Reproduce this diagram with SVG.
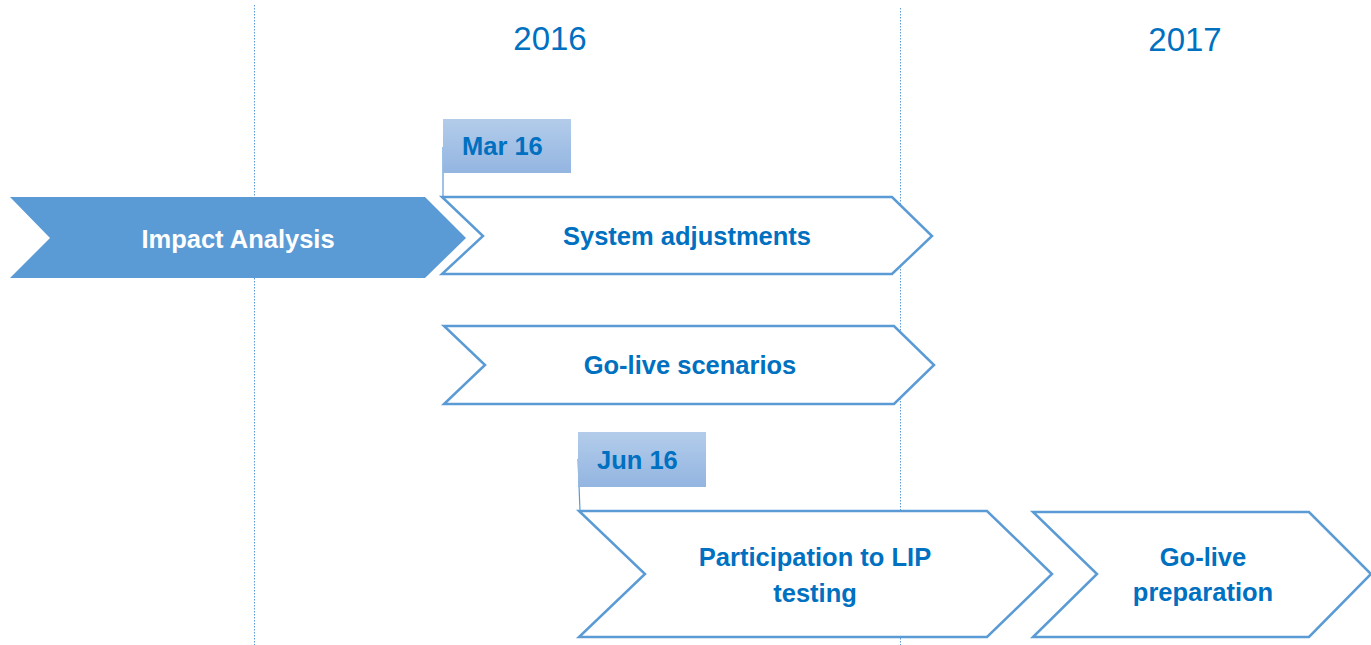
<svg xmlns="http://www.w3.org/2000/svg" width="1371" height="645" viewBox="0 0 1371 645">
<defs>
<linearGradient id="tagGrad" x1="0" y1="0" x2="0" y2="1">
<stop offset="0" stop-color="#B3CCEA"/>
<stop offset="1" stop-color="#93B5E1"/>
</linearGradient>
<style>
.grid{stroke:#5B9BD5;stroke-width:1;stroke-dasharray:1.5 1.5;fill:none}
.chev{fill:#FFFFFF;stroke:#5B9BD5;stroke-width:2.5;stroke-linejoin:miter}
.chevFill{fill:#5B9BD5;stroke:none}
.tag{fill:url(#tagGrad);stroke:none}
.lead{stroke:#5B9BD5;stroke-width:1.2;fill:none}
.lbl{font-family:"Liberation Sans",Arial,sans-serif;font-weight:bold;font-size:25.5px;fill:#0070C0;text-anchor:middle}
.lblW{font-family:"Liberation Sans",Arial,sans-serif;font-weight:bold;font-size:25.5px;fill:#FFFFFF;text-anchor:middle}
.tagTxt{font-family:"Liberation Sans",Arial,sans-serif;font-weight:bold;font-size:25.5px;fill:#0070C0}
.year{font-family:"Liberation Sans",Arial,sans-serif;font-size:33px;fill:#0070C0;text-anchor:middle}
</style>
</defs>
<rect width="1371" height="645" fill="#FFFFFF"/>
<g id="grid">
<line class="grid" x1="254.5" y1="5" x2="254.5" y2="645"/>
<line class="grid" x1="900.5" y1="8" x2="900.5" y2="645"/>
</g>
<g id="years">
<text class="year" x="550" y="50">2016</text>
<text class="year" x="1185" y="51">2017</text>
</g>
<g id="connectors">
<line class="lead" x1="443" y1="147" x2="443" y2="197"/>
<line class="lead" x1="578" y1="459" x2="580" y2="511"/>
</g>
<g id="impact-analysis">
<polygon class="chevFill" points="10,197 425,197 466,238 425,278 10,278 50,238"/>
<text class="lblW" x="238" y="248">Impact Analysis</text>
</g>
<g id="system-adjustments">
<polygon class="chev" points="442,197 892,197 932,236 892,274 442,274 483,236"/>
<text class="lbl" x="687" y="245">System adjustments</text>
</g>
<g id="mar16">
<rect class="tag" x="443" y="119" width="128" height="54"/>
<text class="tagTxt" x="462" y="155">Mar 16</text>
</g>
<g id="go-live-scenarios">
<polygon class="chev" points="444,326 894,326 934,365 894,404 444,404 485,365"/>
<text class="lbl" x="690" y="374">Go-live scenarios</text>
</g>
<g id="jun16">
<rect class="tag" x="578" y="432" width="128" height="55"/>
<text class="tagTxt" x="597" y="469">Jun 16</text>
</g>
<g id="participation">
<polygon class="chev" points="579,511 987,511 1052,574 987,637 579,637 645,574"/>
<text class="lbl" x="815" y="566">Participation to LIP</text>
<text class="lbl" x="815" y="602">testing</text>
</g>
<g id="go-live-preparation">
<polygon class="chev" points="1033,512 1309,512 1371,574 1309,637 1033,637 1097,574"/>
<text class="lbl" x="1203" y="566">Go-live</text>
<text class="lbl" x="1203" y="601">preparation</text>
</g>
</svg>
